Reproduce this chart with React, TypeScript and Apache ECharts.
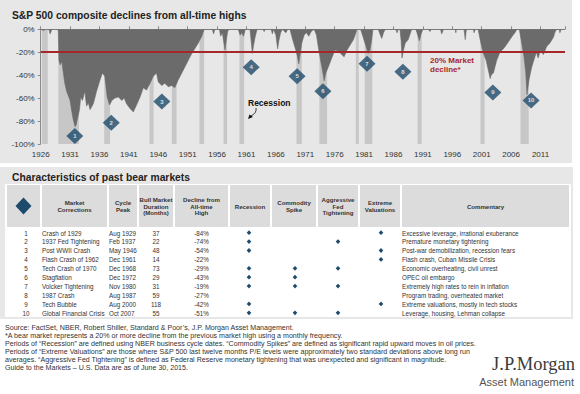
import React, { useEffect, useRef } from 'react';
import * as echarts from 'echarts';

const BASE_YEAR = 1926;
const X_MAX_OFFSET = 89.17;

// Drawdown of the S&P 500 composite from its all-time high (picture years, % decline)
const drawdownYears = [
  1926.0, 1926.5, 1926.8, 1927.4, 1927.6, 1927.9, 1928.5, 1928.9,
  1929.0, 1929.1, 1929.3, 1929.6, 1929.85, 1930.1, 1930.4, 1930.7, 1931.0, 1931.3, 1931.55, 1931.85,
  1932.05, 1932.2, 1932.6, 1932.8, 1933.1, 1933.5, 1933.8, 1934.1, 1934.4, 1934.95, 1935.5, 1936.1,
  1936.5, 1936.9, 1937.3, 1937.7, 1938.1, 1938.6, 1939.2, 1939.8, 1940.2, 1940.6, 1941.2, 1941.75,
  1942.3, 1942.9, 1943.45, 1944.0, 1944.6, 1945.15, 1945.7, 1946.0, 1946.6, 1947.1, 1947.7, 1948.3,
  1948.8, 1949.4, 1950.0, 1950.5, 1951.1, 1951.7, 1952.2, 1952.8, 1953.4, 1953.8,
  1955.2, 1955.4, 1955.6, 1956.4, 1956.6, 1956.9, 1957.1, 1957.35, 1957.6, 1957.8, 1958.0,
  1959.6, 1959.9, 1960.2, 1960.5, 1960.8, 1961.6, 1961.75, 1962.0, 1962.2, 1962.5, 1962.8,
  1963.8, 1964.0, 1964.2, 1965.2, 1965.4, 1965.6, 1966.0, 1966.3, 1966.5, 1966.8, 1967.1, 1967.7, 1968.0,
  1968.4, 1968.8, 1969.2, 1969.5, 1969.9, 1970.4, 1970.8, 1971.2, 1971.6, 1972.0, 1972.5,
  1972.9, 1973.2, 1973.6, 1974.0, 1974.2, 1974.5, 1974.9, 1975.5, 1976.05, 1976.6, 1977.2, 1977.6,
  1978.0, 1978.6, 1979.2, 1979.6, 1979.8, 1980.4, 1980.6, 1981.15, 1981.7, 1982.0, 1982.3, 1982.5,
  1983.4, 1983.7, 1984.0, 1984.3, 1984.6, 1986.4, 1986.6, 1986.8, 1987.1, 1987.3, 1987.45, 1987.7,
  1988.0, 1988.5, 1988.9, 1989.1, 1989.8, 1990.0, 1990.4, 1990.7, 1991.0, 1992.0, 1992.2, 1992.4,
  1994.0, 1994.2, 1994.5, 1996.5, 1996.6, 1996.7, 1998.0, 1998.2, 1998.4, 1999.6, 1999.7, 1999.9,
  2000.4, 2000.7, 2001.0, 2001.3, 2001.75, 2002.1, 2002.45, 2002.6, 2003.0, 2003.55, 2004.1, 2004.5,
  2005.0, 2005.4, 2005.8, 2006.2, 2006.65, 2007.0, 2007.4, 2007.8, 2008.2, 2008.5, 2008.7, 2009.05,
  2009.5, 2010.05, 2010.3, 2010.6, 2011.0, 2011.2, 2011.5, 2012.05, 2012.6, 2013.2, 2013.5, 2013.8,
  2014.2, 2014.3, 2014.5, 2015.15,
];
const drawdownValues = [
  0, -1, 0, 0, -4, 0, 0, 0,
  -2, -27, -31, -28, -38, -47, -54, -58, -62, -72, -79, -85,
  -83, -79, -70, -59, -62, -54, -67, -64, -70, -65, -54, -44,
  -38, -41, -59, -66, -62, -60, -59, -62, -60, -65, -69, -72,
  -66, -59, -51, -53, -47, -41, -38, -46, -49, -47, -50, -49,
  -51, -44, -38, -33, -27, -21, -17, -12, -6, 0,
  0, -4, 0, 0, -6, -3, -10, -18, -8, -2, 0,
  0, -5, -3, -6, 0, 0, -8, -21, -14, -6, 0,
  0, -2, 0, 0, -4, 0, -5, -17, -10, -3, 0, -3, 0,
  0, -8, -15, -20, -30, -12, -5, -3, -6, -2, 0,
  -5, -15, -27, -38, -45, -38, -33, -25, -18, -19, -22, -24,
  -19, -14, -9, -3, 0, 0, -3, -12, -21, -18, -9, 0,
  0, -4, -8, -3, 0, 0, -3, 0, 0, -10, -25, -18,
  -12, -9, -3, 0, 0, -3, -10, -4, 0, 0, -2, 0,
  0, -4, 0, 0, -3, 0, 0, -9, 0, 0, -3, 0,
  0, -8, -15, -21, -27, -35, -43, -40, -38, -27, -20, -18,
  -15, -12, -9, -6, -3, 0, 0, -12, -24, -38, -57, -44,
  -33, -24, -20, -25, -18, -20, -22, -15, -12, -7, -2, 0,
  0, -3, 0, 0,
];

// Recession periods (picture years)
const recessionStarts = [1926.2, 1929.0, 1936.8, 1944.5, 1948.3, 1953.0, 1957.1, 1959.8, 1969.5, 1973.4, 1979.6, 1981.1, 1990.1, 2000.8, 2007.6];
const recessionEnds = [1927.2, 1932.5, 1937.8, 1945.2, 1949.1, 1953.8, 1957.7, 1960.6, 1970.4, 1974.7, 1980.1, 1982.4, 1990.8, 2001.5, 2009.0];

// Numbered bear-market markers
const markerYears = [1931.8, 1938.0, 1946.6, 1961.8, 1969.6, 1974.0, 1981.5, 1987.6, 2002.9, 2009.4];
const markerValues = [-93, -81.5, -63, -33, -41, -54, -30, -37, -55, -62];

const bearThreshold = -20;

// Table
const rowNumbers = ['1', '2', '3', '4', '5', '6', '7', '8', '9', '10'];
const corrections = ['Crash of 1929', '1937 Fed Tightening', 'Post WWII Crash', 'Flash Crash of 1962', 'Tech Crash of 1970', 'Stagflation', 'Volcker Tightening', '1987 Crash', 'Tech Bubble', 'Global Financial Crisis'];
const cyclePeaks = ['Aug 1929', 'Feb 1937', 'May 1946', 'Dec 1961', 'Dec 1968', 'Dec 1972', 'Nov 1980', 'Aug 1987', 'Aug 2000', 'Oct 2007'];
const bullDurations = [37, 22, 48, 14, 73, 29, 31, 59, 118, 55];
const declines = [-84, -74, -54, -22, -29, -43, -19, -27, -42, -51];
const hasRecession = [1, 1, 1, 0, 1, 1, 1, 0, 1, 1];
const hasCommodity = [0, 0, 0, 0, 1, 1, 1, 0, 0, 1];
const hasFed = [0, 1, 0, 0, 1, 0, 1, 0, 0, 1];
const hasExtreme = [1, 0, 1, 1, 0, 0, 0, 0, 1, 0];
const commentary = [
  'Excessive leverage, irrational exuberance',
  'Premature monetary tightening',
  'Post-war demobilization, recession fears',
  'Flash crash, Cuban Missile Crisis',
  'Economic overheating, civil unrest',
  'OPEC oil embargo',
  'Extremely high rates to rein in inflation',
  'Program trading, overheated market',
  'Extreme valuations, mostly in tech stocks',
  'Leverage, housing, Lehman collapse',
];
const headerLabels = ['', 'Market\nCorrections', 'Cycle\nPeak', 'Bull Market\nDuration\n(Months)', 'Decline from\nAll-time\nHigh', 'Recession', 'Commodity\nSpike', 'Aggressive\nFed\nTightening', 'Extreme\nValuations', 'Commentary'];

const footnotes = [
  'Source: FactSet, NBER, Robert Shiller, Standard & Poor\u2019s, J.P. Morgan Asset Management.',
  '*A bear market represents a 20% or more decline from the previous market high using a monthly frequency.',
  'Periods of \u201cRecession\u201d are defined using NBER business cycle dates. \u201cCommodity Spikes\u201d are defined as significant rapid upward moves in oil prices.',
  'Periods of \u201cExtreme Valuations\u201d are those where S&P 500 last twelve months P/E levels were approximately two standard deviations above long run',
  'averages. \u201cAggressive Fed Tightening\u201d is defined as Federal Reserve monetary tightening that was unexpected and significant in magnitude.',
  'Guide to the Markets \u2013 U.S. Data are as of June 30, 2015.',
];

const FONT = '"Liberation Sans", Arial, Helvetica, sans-serif';
const NAVY = '#1e4a6b';
const PANEL = '#e7e7e7';

function txt(x: number, y: number, text: string, o: any = {}) {
  const align = o.align || 'left';
  const va = o.va || 'middle';
  return {
    type: 'text',
    x,
    y,
    z: o.z ?? 10,
    style: {
      text,
      fill: o.fill || '#333',
      font: `${o.weight || 'normal'} ${o.size || 7}px ${o.family || FONT}`,
      align,
      verticalAlign: va,
      textAlign: align,
      textVerticalAlign: va,
      lineHeight: o.lh,
    },
  };
}

function dot(cx: number, cy: number, r: number, color: string, z = 10) {
  return {
    type: 'polygon',
    z,
    shape: { points: [[cx, cy - r * 1.05], [cx + r, cy], [cx, cy + r * 1.05], [cx - r, cy]] },
    style: { fill: color },
  };
}

export default function App() {
  const ref = useRef<HTMLDivElement>(null);

  useEffect(() => {
    if (!ref.current) return;
    const chart = echarts.init(ref.current, undefined, { renderer: 'svg' });

    const areaData = drawdownYears.map((y, i) => [y - BASE_YEAR, drawdownValues[i]]);
    const bands = recessionStarts.map((s, i) => [
      { xAxis: s - BASE_YEAR, yAxis: 0 },
      { xAxis: recessionEnds[i] - BASE_YEAR, yAxis: -100 },
    ]);
    const markers = markerYears.map((y, i) => [y - BASE_YEAR, markerValues[i]]);

    // table geometry
    const cols = [[7, 40], [42, 107], [109, 137], [139, 173], [175, 228], [230, 270], [272, 316], [318, 358], [360, 400], [402, 569]];
    const headTop = 185, headBot = 227;
    const rowY0 = 233, rowStep = 8.9;
    const g: any[] = [];
    g.push({ type: 'rect', z: -10, shape: { x: 0, y: 0, width: 572, height: 163 }, style: { fill: PANEL } });
    g.push({ type: 'rect', z: -10, shape: { x: 0, y: 167, width: 573, height: 152 }, style: { fill: PANEL } });
    g.push(txt(12, 15, 'S&P 500 composite declines from all-time highs', { size: 10.3, weight: 'bold', fill: '#222' }));
    g.push(txt(12, 177, 'Characteristics of past bear markets', { size: 10.3, weight: 'bold', fill: '#222' }));
    g.push({ type: 'rect', z: 1, shape: { x: 5, y: 184, width: 566, height: 133 }, style: { fill: '#ffffff' } });
    cols.forEach((c, i) => {
      g.push({ type: 'rect', z: 2, shape: { x: c[0], y: headTop, width: c[1] - c[0], height: headBot - headTop }, style: { fill: '#dcdcdc' } });
      if (headerLabels[i]) {
        g.push(txt((c[0] + c[1]) / 2, 206, headerLabels[i], { size: 6.1, weight: 'bold', align: 'center', lh: 6.6, fill: '#333' }));
      }
    });
    g.push(dot(23.5, 206, 8, NAVY));
    const dotCols = [249, 295, 338, 381];
    rowNumbers.forEach((n, i) => {
      const y = rowY0 + i * rowStep;
      g.push(txt(26, y, n, { size: 6.3, align: 'center' }));
      g.push(txt(42, y, corrections[i], { size: 6.3 }));
      g.push(txt(109, y, cyclePeaks[i], { size: 6.3 }));
      g.push(txt(156, y, String(bullDurations[i]), { size: 6.3, align: 'center' }));
      g.push(txt(201.5, y, `${declines[i]}%`, { size: 6.3, align: 'center' }));
      [hasRecession, hasCommodity, hasFed, hasExtreme].forEach((arr, k) => {
        if (arr[i]) g.push(dot(dotCols[k], y - 0.3, 2.3, NAVY));
      });
      g.push(txt(402, y, commentary[i], { size: 6.3 }));
    });
    footnotes.forEach((f, i) => {
      g.push(txt(5, 328 + i * 8, f, { size: 7.1, fill: '#333' }));
    });
    g.push(txt(575, 364, 'J.P.Morgan', { size: 18.5, align: 'right', family: '"Liberation Serif", "Times New Roman", serif', fill: '#3a3a3a' }));
    g.push(txt(574, 382, 'Asset Management', { size: 11, align: 'right', family: '"Liberation Sans Narrow", "Arial Narrow", "Liberation Sans", sans-serif', fill: '#555' }));
    // chart annotations
    g.push(txt(430, 60, '20% Market', { size: 8, weight: 'bold', fill: '#a8262b' }));
    g.push(txt(430, 69, 'decline*', { size: 8, weight: 'bold', fill: '#a8262b' }));
    g.push(txt(248, 103, 'Recession', { size: 8.5, weight: 'bold', fill: '#111' }));
    g.push({ type: 'bezierCurve', z: 10, shape: { x1: 256, y1: 108, x2: 251, y2: 116, cpx1: 257, cpy1: 113 }, style: { stroke: '#111', lineWidth: 0.8, fill: 'none' } });
    g.push({ type: 'polygon', z: 10, shape: { points: [[248, 119], [249.5, 114.5], [253, 117]] }, style: { fill: '#111' } });

    const xLabelFmt = (v: number) => {
      const r = Math.round(v / 5) * 5;
      return Math.abs(v - r) < 1e-6 ? String(BASE_YEAR + r) : '';
    };

    chart.setOption({
      animation: false,
      backgroundColor: '#ffffff',
      grid: { left: 40.7, top: 29.3, width: 524.3, height: 114.7 },
      xAxis: [
        {
          type: 'value', min: 0, max: X_MAX_OFFSET, interval: 5, position: 'bottom',
          axisLine: { show: false, onZero: false }, axisTick: { show: false }, splitLine: { show: false },
          axisLabel: { formatter: xLabelFmt, fontSize: 8, color: '#333', margin: 6, fontFamily: FONT, showMaxLabel: false },
        },
        {
          type: 'value', min: 0, max: X_MAX_OFFSET, interval: 5, position: 'top',
          axisLine: { show: true, onZero: false, lineStyle: { color: '#8a8a8a', width: 1 } },
          axisTick: { show: true, length: 3, lineStyle: { color: '#8a8a8a' } },
          axisLabel: { show: false }, splitLine: { show: false },
        },
      ],
      yAxis: {
        type: 'value', min: -100, max: 0, interval: 20,
        axisLine: { show: true, lineStyle: { color: '#8a8a8a' } },
        axisTick: { show: true, length: 3, lineStyle: { color: '#8a8a8a' } },
        axisLabel: { formatter: '{value}%', fontSize: 8, color: '#333', margin: 6, fontFamily: FONT },
        splitLine: { show: false },
      },
      graphic: { elements: g },
      series: [
        {
          type: 'line', data: areaData, showSymbol: false, symbol: 'none', z: 2,
          lineStyle: { color: '#6a6a6a', width: 0.6 },
          areaStyle: { color: '#6b6b6b', opacity: 1, origin: 'end' },
        },
        {
          type: 'line', data: [[0, 0]], showSymbol: false, symbol: 'none', z: 3,
          lineStyle: { opacity: 0 },
          markArea: { silent: true, itemStyle: { color: 'rgba(171,171,171,0.52)' }, data: bands },
        },
        {
          type: 'line', data: [[0, 0]], showSymbol: false, symbol: 'none', z: 4,
          lineStyle: { opacity: 0 },
          markLine: {
            silent: true, symbol: ['none', 'none'], label: { show: false },
            lineStyle: { color: '#a8262b', width: 2, type: 'solid' },
            data: [{ yAxis: bearThreshold }],
          },
        },
        {
          type: 'scatter', data: markers, symbol: 'diamond', symbolSize: [17, 16], z: 5,
          itemStyle: { color: NAVY },
          label: {
            show: true, position: 'inside', color: '#fff', fontSize: 6, fontWeight: 'bold', fontFamily: FONT,
            formatter: (p: any) => rowNumbers[p.dataIndex],
          },
        },
      ],
    });
    return () => chart.dispose();
  }, []);

  return <div ref={ref} style={{ position: 'fixed', left: 0, top: 0, width: 580, height: 394 }} />;
}
